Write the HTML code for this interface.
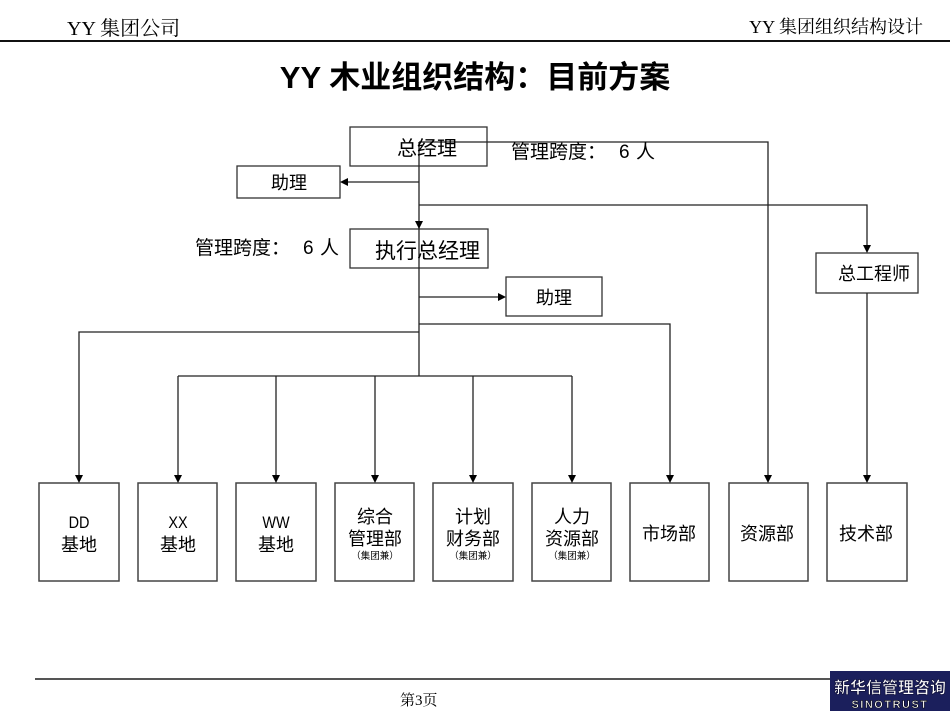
<!DOCTYPE html>
<html><head><meta charset="utf-8">
<style>
html,body{margin:0;padding:0;background:#fff;}
svg{display:block;}
.s{font-family:"Liberation Sans","Noto Sans CJK SC",sans-serif;fill:#000;}
.sf{font-family:"Liberation Serif","Noto Serif CJK SC",serif;fill:#000;}
</style></head>
<body>
<svg width="950" height="713" viewBox="0 0 950 713" xmlns="http://www.w3.org/2000/svg">
<!-- header -->
<text x="67" y="35" class="sf" font-size="20">YY 集团公司</text>
<text x="923" y="33" class="sf" font-size="18" text-anchor="end">YY 集团组织结构设计</text>
<line x1="0" y1="41" x2="950" y2="41" stroke="#111" stroke-width="2"/>
<text x="475" y="88" class="s" font-size="31" font-weight="bold" text-anchor="middle">YY 木业组织结构：目前方案</text>

<!-- top boxes -->
<g fill="#fff" stroke="#333" stroke-width="1.3">
<rect x="350" y="127" width="137" height="39"/>
<rect x="237" y="166" width="103" height="32"/>
<rect x="350" y="229" width="138" height="39"/>
<rect x="506" y="277" width="96" height="39"/>
<rect x="816" y="253" width="102" height="40"/>
</g>
<!-- bottom boxes -->
<g fill="#fff" stroke="#444" stroke-width="1.5">
<rect x="39" y="483" width="80" height="98"/>
<rect x="138" y="483" width="79" height="98"/>
<rect x="236" y="483" width="80" height="98"/>
<rect x="335" y="483" width="79" height="98"/>
<rect x="433" y="483" width="80" height="98"/>
<rect x="532" y="483" width="79" height="98"/>
<rect x="630" y="483" width="79" height="98"/>
<rect x="729" y="483" width="79" height="98"/>
<rect x="827" y="483" width="80" height="98"/>
</g>

<!-- connectors -->
<g fill="none" stroke="#222" stroke-width="1.3">
<polyline points="419,142 419,376"/>
<polyline points="419,142 768,142 768,476"/>
<polyline points="419,205 867,205 867,246"/>
<polyline points="867,293 867,476"/>
<polyline points="419,182 347,182"/>
<polyline points="419,297 499,297"/>
<polyline points="419,324 670,324 670,476"/>
<polyline points="419,332 79,332 79,476"/>
<polyline points="178,376 572,376"/>
<polyline points="178,376 178,476"/>
<polyline points="276,376 276,476"/>
<polyline points="375,376 375,476"/>
<polyline points="473,376 473,476"/>
<polyline points="572,376 572,476"/>
</g>
<!-- arrowheads -->
<g fill="#000">
<polygon points="415,221 423,221 419,229"/>
<polygon points="863,245 871,245 867,253"/>
<polygon points="348,178 348,186 340,182"/>
<polygon points="498,293 498,301 506,297"/>
<polygon points="75,475 83,475 79,483"/>
<polygon points="174,475 182,475 178,483"/>
<polygon points="272,475 280,475 276,483"/>
<polygon points="371,475 379,475 375,483"/>
<polygon points="469,475 477,475 473,483"/>
<polygon points="568,475 576,475 572,483"/>
<polygon points="666,475 674,475 670,483"/>
<polygon points="764,475 772,475 768,483"/>
<polygon points="863,475 871,475 867,483"/>
</g>

<!-- top labels -->
<text x="397" y="155" class="s" font-size="20">总经理</text>
<text x="511" y="158" class="s" font-size="19">管理跨度：</text>
<text x="619" y="158" class="s" font-size="19">6</text>
<text x="636" y="158" class="s" font-size="19">人</text>
<text x="289" y="189" class="s" font-size="18" text-anchor="middle">助理</text>
<text x="195" y="254" class="s" font-size="19">管理跨度：</text>
<text x="303" y="254" class="s" font-size="19">6</text>
<text x="320" y="254" class="s" font-size="19">人</text>
<text x="375" y="258" class="s" font-size="21">执行总经理</text>
<text x="554" y="304" class="s" font-size="18" text-anchor="middle">助理</text>
<text x="874" y="280" class="s" font-size="18" text-anchor="middle">总工程师</text>

<!-- bottom labels -->
<g class="s" text-anchor="middle">
<text x="79" y="528" font-size="17" transform="translate(79,0) scale(0.85,1) translate(-79,0)">DD</text>
<text x="79" y="551" font-size="18">基地</text>
<text x="178" y="528" font-size="17" transform="translate(178,0) scale(0.85,1) translate(-178,0)">XX</text>
<text x="178" y="551" font-size="18">基地</text>
<text x="276" y="528" font-size="17" transform="translate(276,0) scale(0.85,1) translate(-276,0)">WW</text>
<text x="276" y="551" font-size="18">基地</text>
<text x="375" y="523" font-size="18">综合</text>
<text x="375" y="545" font-size="18">管理部</text>
<text x="375" y="559" font-size="9.5">（集团兼）</text>
<text x="473" y="523" font-size="18">计划</text>
<text x="473" y="545" font-size="18">财务部</text>
<text x="473" y="559" font-size="9.5">（集团兼）</text>
<text x="572" y="523" font-size="18">人力</text>
<text x="572" y="545" font-size="18">资源部</text>
<text x="572" y="559" font-size="9.5">（集团兼）</text>
<text x="669" y="540" font-size="18">市场部</text>
<text x="767" y="540" font-size="18">资源部</text>
<text x="866" y="540" font-size="18">技术部</text>
</g>

<!-- footer -->
<line x1="35" y1="679" x2="830" y2="679" stroke="#555" stroke-width="2"/>
<text x="400" y="705" class="sf" font-size="15">第3页</text>
<rect x="830" y="671" width="120" height="40" fill="#1b1f5c"/>
<text x="890" y="693" font-size="16" font-weight="bold" fill="#fff" stroke="#0a0a30" stroke-width="0.6" text-anchor="middle" style="font-family:'Liberation Sans','Noto Sans CJK SC',sans-serif">新华信管理咨询</text>
<text x="890" y="708" font-size="11" font-weight="bold" fill="#fff" stroke="#000" stroke-width="0.5" text-anchor="middle" letter-spacing="1.5" style="font-family:'Liberation Sans',sans-serif">SINOTRUST</text>
</svg>
</body></html>
